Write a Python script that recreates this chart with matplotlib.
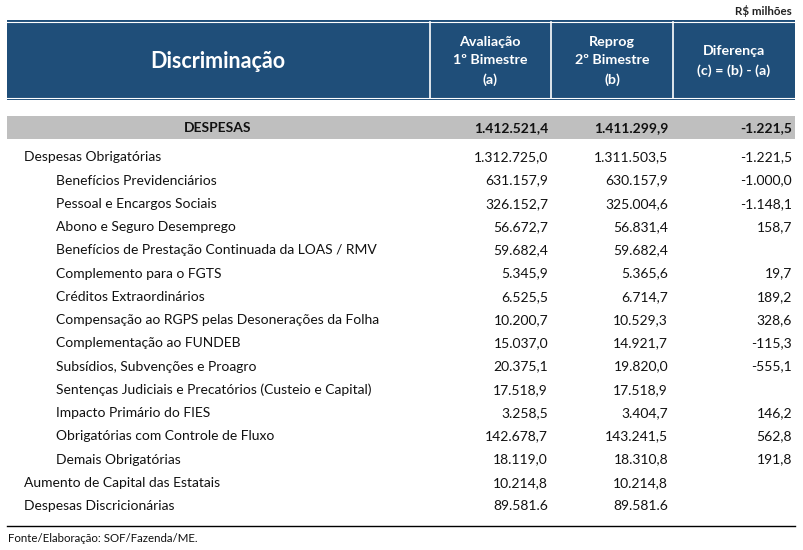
import matplotlib.pyplot as plt
from matplotlib.patches import Rectangle

plt.rcParams['font.family'] = ['Lato', 'DejaVu Sans']

# table data
labels = ['Despesas Obrigatórias', 'Benefícios Previdenciários', 'Pessoal e Encargos Sociais',
          'Abono e Seguro Desemprego', 'Benefícios de Prestação Continuada da LOAS / RMV',
          'Complemento para o FGTS', 'Créditos Extraordinários',
          'Compensação ao RGPS pelas Desonerações da Folha', 'Complementação ao FUNDEB',
          'Subsídios, Subvenções e Proagro', 'Sentenças Judiciais e Precatórios (Custeio e Capital)',
          'Impacto Primário do FIES', 'Obrigatórias com Controle de Fluxo', 'Demais Obrigatórias',
          'Aumento de Capital das Estatais', 'Despesas Discricionárias']
levels = [1, 2, 2, 2, 2, 2, 2, 2, 2, 2, 2, 2, 2, 2, 1, 1]
col_a = ['1.312.725,0', '631.157,9', '326.152,7', '56.672,7', '59.682,4', '5.345,9', '6.525,5',
         '10.200,7', '15.037,0', '20.375,1', '17.518,9', '3.258,5', '142.678,7', '18.119,0',
         '10.214,8', '89.581.6']
col_b = ['1.311.503,5', '630.157,9', '325.004,6', '56.831,4', '59.682,4', '5.365,6', '6.714,7',
         '10.529,3', '14.921,7', '19.820,0', '17.518,9', '3.404,7', '143.241,5', '18.310,8',
         '10.214,8', '89.581.6']
col_c = ['-1.221,5', '-1.000,0', '-1.148,1', '158,7', '', '19,7', '189,2', '328,6', '-115,3',
         '-555,1', '', '146,2', '562,8', '191,8', '', '']
total = ['1.412.521,4', '1.411.299,9', '-1.221,5']
headers = ['Avaliação\n1º Bimestre\n(a)', 'Reprog\n2º Bimestre\n(b)', 'Diferença\n(c) = (b) - (a)']

blue = '#1F4E79'
gray = '#BFBFBF'

fig = plt.figure(figsize=(8.04, 5.5), dpi=100)
ax = fig.add_axes([0, 0, 1, 1])
ax.set_xlim(0, 804)
ax.set_ylim(550, 0)
ax.axis('off')

# header block
ax.add_patch(Rectangle((7, 20), 788, 80, color=blue, lw=0))
for y in (22, 98):
    ax.plot([7, 795], [y, y], color='white', lw=0.8)
for x in (430, 551, 673):
    ax.plot([x, x], [22, 98], color='white', lw=1.2)

ax.text(792, 11, 'R$ milhões', ha='right', va='center', fontsize=8.3, fontweight='bold', color='#222222')
ax.text(218, 61, 'Discriminação', ha='center', va='center', fontsize=15.5, fontweight='bold', color='white')
for cx, h in zip((490, 612, 734), headers):
    ax.text(cx, 61, h, ha='center', va='center', fontsize=10.3, fontweight='bold', color='white',
            linespacing=1.65)

col_x = [548, 668, 792]

# DESPESAS total row
ax.add_patch(Rectangle((7, 116), 788, 23, color=gray, lw=0))
ax.text(218, 128, 'DESPESAS', ha='center', va='center', fontsize=10, fontweight='bold', color='#111111')
for x, v in zip(col_x, total):
    ax.text(x, 128, v, ha='right', va='center', fontsize=10, fontweight='bold', color='#111111')

# body rows
y0, dy = 157.3, 23.25
for i, (lab, lev) in enumerate(zip(labels, levels)):
    y = y0 + i * dy
    ax.text(24 if lev == 1 else 56, y, lab, ha='left', va='center', fontsize=10, color='#111111')
    for x, v in zip(col_x, (col_a[i], col_b[i], col_c[i])):
        ax.text(x, y, v, ha='right', va='center', fontsize=10, color='#111111')

ax.plot([7, 795], [526, 526], color='black', lw=1)
ax.text(8, 538, 'Fonte/Elaboração: SOF/Fazenda/ME.', ha='left', va='center', fontsize=8.3, color='#111111')

fig.savefig('out.png', dpi=100, facecolor='white')
